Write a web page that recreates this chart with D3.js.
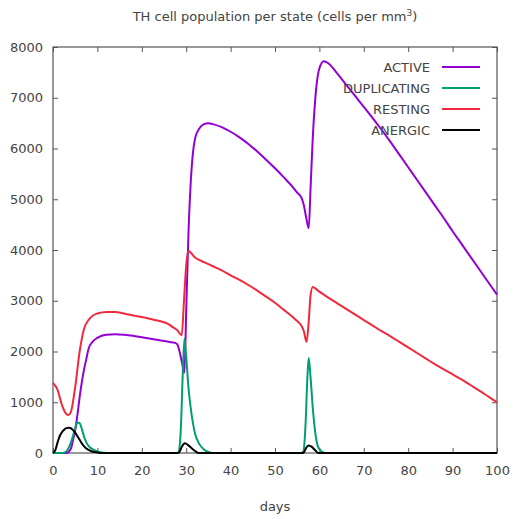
<!DOCTYPE html>
<meta charset="utf-8">
<script src="https://d3js.org/d3.v7.min.js"></script>
<style>
  body { margin: 0; background: #fff; }
  text { font-family: "DejaVu Sans", sans-serif; fill: #444; }
</style>
<div id="chart"></div>
<script>
// values (days, cells per mm3)
var activeDays = [0, 3, 4, 4.5, 5, 5.5, 6, 6.5, 7, 7.5, 8, 9, 10, 12, 14, 16, 18, 20, 22, 24, 26, 27.5, 28, 28.5, 29, 29.6, 30, 30.5, 31, 31.5, 32, 33, 34, 35, 36, 38, 40, 42, 44, 46, 48, 50, 52, 54, 55, 56, 56.5, 57, 57.6, 58, 58.5, 59, 59.5, 60, 61, 62, 64, 66, 68, 70, 72, 74, 76, 78, 80, 82, 84, 86, 88, 90, 92, 94, 96, 98, 100];
var activeVals = [0, 0, 80, 250, 450, 750, 1100, 1400, 1650, 1850, 2050, 2200, 2270, 2330, 2340, 2330, 2310, 2280, 2250, 2220, 2190, 2170, 2140, 2000, 1800, 1580, 2800, 4300, 5300, 5900, 6200, 6400, 6480, 6500, 6480, 6420, 6330, 6220, 6090, 5940, 5780, 5610, 5430, 5240, 5130, 5020, 4880, 4650, 4430, 5200, 6200, 6900, 7350, 7580, 7720, 7680, 7480, 7260, 7040, 6820, 6600, 6370, 6130, 5880, 5630, 5380, 5130, 4880, 4630, 4370, 4120, 3870, 3620, 3370, 3120];

var dupDays = [0, 2, 3, 4, 5, 5.5, 6, 6.5, 7, 7.5, 8, 9, 10, 11, 12, 28, 28.3, 28.8, 29.2, 29.6, 30, 30.5, 31, 31.5, 32, 33, 34, 35, 36, 56, 56.4, 56.9, 57.3, 57.6, 58, 58.5, 59, 59.7, 60.5, 61.5, 100];
var dupVals = [0, 0, 30, 200, 480, 600, 590, 470, 320, 210, 140, 70, 30, 10, 0, 0, 20, 500, 1500, 2250, 1900, 1300, 900, 600, 380, 170, 70, 20, 0, 0, 30, 600, 1500, 1870, 1500, 900, 450, 120, 30, 0, 0];

var restDays = [0, 1, 2, 3, 3.5, 4, 5, 6, 7, 8, 9, 10, 12, 14, 16, 18, 20, 22, 24, 26, 27, 28, 29, 29.5, 30, 30.5, 31, 32, 33, 34, 36, 38, 40, 42, 44, 46, 48, 50, 52, 54, 55, 56, 56.5, 57.1, 57.6, 58, 58.5, 59, 60, 61, 62, 64, 66, 68, 70, 72, 74, 76, 78, 80, 82, 84, 86, 88, 90, 92, 94, 96, 98, 100];
var restVals = [1380, 1250, 950, 770, 750, 800, 1300, 2000, 2450, 2620, 2710, 2750, 2780, 2780, 2750, 2710, 2680, 2640, 2600, 2540, 2480, 2420, 2320, 3000, 3700, 3980, 3950, 3850, 3800, 3760, 3680, 3600, 3500, 3410, 3310, 3200, 3080, 2960, 2820, 2680, 2600, 2500, 2400, 2190, 2600, 3100, 3270, 3250, 3180, 3120, 3060, 2950, 2840, 2730, 2620, 2510, 2400, 2300, 2190, 2080, 1970, 1860, 1750, 1650, 1550, 1450, 1340, 1230, 1115, 1000];

var anergDays = [0, 0.5, 1, 1.5, 2, 2.5, 3, 3.5, 4, 4.5, 5, 5.5, 6, 6.5, 7, 8, 9, 10, 11, 28, 28.4, 29, 29.7, 30.5, 31.3, 32, 32.8, 56, 56.5, 57, 57.6, 58.3, 59, 59.8, 100];
var anergVals = [0, 50, 200, 330, 410, 460, 490, 500, 490, 450, 400, 330, 260, 190, 130, 60, 25, 10, 0, 0, 10, 120, 190, 150, 90, 40, 0, 0, 10, 100, 150, 120, 60, 0, 0];

var seriesNames = ["ACTIVE", "DUPLICATING", "RESTING", "ANERGIC"];
var seriesColors = ["#9400d3", "#009e73", "#f02a3c", "#000000"];
var xTicks = [0, 10, 20, 30, 40, 50, 60, 70, 80, 90, 100];
var yTicks = [0, 1000, 2000, 3000, 4000, 5000, 6000, 7000, 8000];

var W = 514, H = 519;
var margin = {top: 47, right: 17, bottom: 66, left: 53};
var width = W - margin.left - margin.right,
    height = H - margin.top - margin.bottom;

var svg = d3.select("#chart").append("svg")
    .attr("width", W).attr("height", H)
  .append("g")
    .attr("transform", "translate(" + margin.left + "," + margin.top + ")");

var x = d3.scaleLinear().domain([0, 100]).range([0, width]);
var y = d3.scaleLinear().domain([0, 8000]).range([height, 0]);

// ticks point inward, mirrored on top and right
svg.append("g")
    .attr("transform", "translate(0," + height + ")")
    .call(d3.axisBottom(x).tickValues(xTicks).tickSize(-5).tickPadding(13).tickFormat(d3.format("d")))
    .call(function(g) { g.select(".domain").remove(); });
svg.append("g")
    .call(d3.axisTop(x).tickValues(xTicks).tickSize(-5).tickFormat(""))
    .call(function(g) { g.select(".domain").remove(); });
svg.append("g")
    .call(d3.axisLeft(y).tickValues(yTicks).tickSize(-5).tickPadding(10).tickFormat(d3.format("d")))
    .call(function(g) { g.select(".domain").remove(); });
svg.append("g")
    .attr("transform", "translate(" + width + ",0)")
    .call(d3.axisRight(y).tickValues(yTicks).tickSize(-5).tickFormat(""))
    .call(function(g) { g.select(".domain").remove(); });

svg.selectAll(".tick line").attr("stroke", "#555");
svg.selectAll(".tick text").attr("font-size", 13).attr("fill", "#444")
    .attr("font-family", "DejaVu Sans, sans-serif");

svg.append("rect")
    .attr("width", width).attr("height", height)
    .attr("fill", "none").attr("stroke", "#555").attr("stroke-width", 1.2);

var data = [
  {days: activeDays, vals: activeVals},
  {days: dupDays, vals: dupVals},
  {days: restDays, vals: restVals},
  {days: anergDays, vals: anergVals}
];

var line = d3.line()
    .x(function(d) { return x(d[0]); })
    .y(function(d) { return y(d[1]); })
    .curve(d3.curveMonotoneX);

data.forEach(function(s, i) {
  var pts = s.days.map(function(d, k) { return [d, s.vals[k]]; });
  svg.append("path")
      .datum(pts)
      .attr("fill", "none")
      .attr("stroke", seriesColors[i])
      .attr("stroke-width", 2)
      .attr("stroke-linejoin", "round")
      .attr("d", line);
});

// legend
var legend = svg.append("g");
seriesNames.forEach(function(name, i) {
  var ly = 20 + i * 21;
  legend.append("text")
      .attr("x", 377).attr("y", ly)
      .attr("dy", "0.35em")
      .attr("text-anchor", "end")
      .attr("font-size", 13)
      .text(name);
  legend.append("line")
      .attr("x1", 389).attr("x2", 427)
      .attr("y1", ly).attr("y2", ly)
      .attr("stroke", seriesColors[i])
      .attr("stroke-width", 2);
});

// title and axis label
var title = d3.select("svg").append("text")
    .attr("x", 275).attr("y", 21)
    .attr("text-anchor", "middle")
    .attr("font-size", 13);
title.append("tspan").text("TH cell population per state (cells per mm");
title.append("tspan").attr("font-size", 9).attr("dy", -5).text("3");
title.append("tspan").attr("dy", 5).text(")");

d3.select("svg").append("text")
    .attr("x", 275).attr("y", 511)
    .attr("text-anchor", "middle")
    .attr("font-size", 13)
    .text("days");
</script>
